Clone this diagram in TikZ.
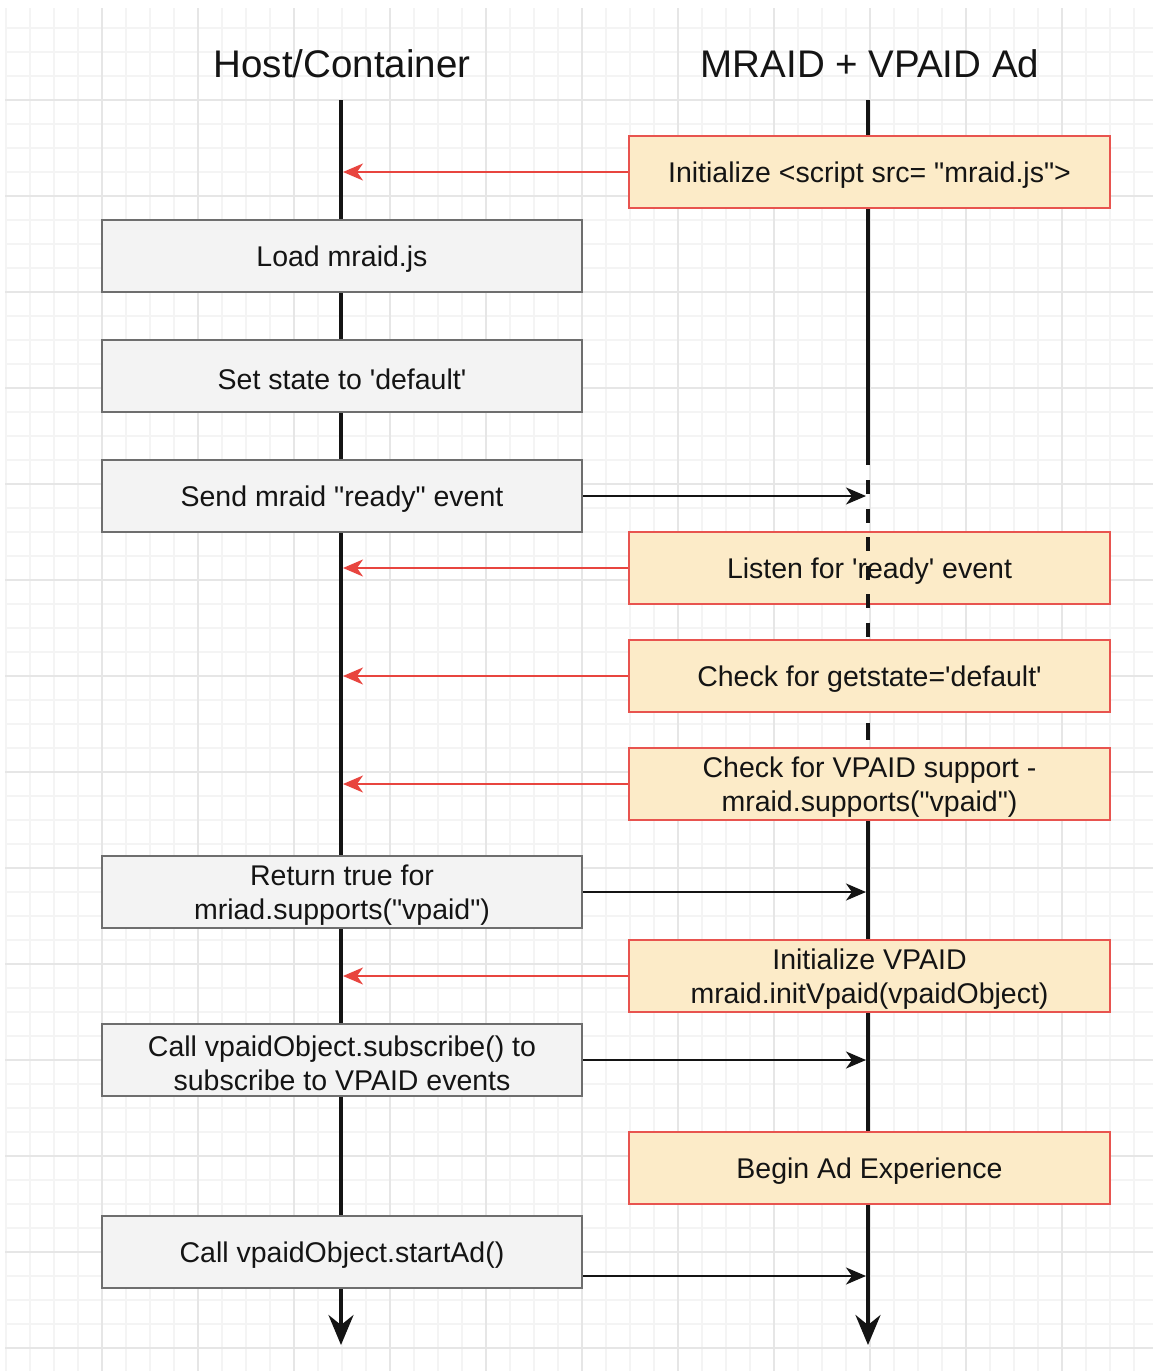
\documentclass[tikz,border=0pt]{standalone}
\usepackage{fontspec}
\setmainfont{Liberation Sans}[Ligatures=TeXOff]
\usetikzlibrary{arrows.meta}
\definecolor{gridminor}{HTML}{F4F4F4}
\definecolor{gridmajor}{HTML}{E6E6E6}
\definecolor{hostfill}{HTML}{F3F3F3}
\definecolor{hostdraw}{HTML}{6E6E6E}
\definecolor{adfill}{HTML}{FCEBC8}
\definecolor{addraw}{HTML}{E8544F}
\definecolor{redline}{HTML}{E8453F}
\definecolor{ink}{HTML}{141414}
\tikzset{
  minorline/.style={draw=gridminor, line width=1.2pt},
  majorline/.style={draw=gridmajor, line width=1.4pt},
  lifeline/.style={draw=ink, line width=3.6pt},
  lifeend/.style={-{Stealth[length=30pt,width=25pt,inset=10pt]}},
  hostbox/.style={draw=hostdraw, fill=hostfill, line width=2pt, minimum width=480pt, minimum height=72pt, inner sep=0pt},
  adbox/.style={draw=addraw, fill=adfill, line width=2pt, minimum width=481pt, minimum height=72pt, inner sep=0pt},
  boxtext/.style={align=center, font=\fontsize{28.5}{34}\selectfont, text=ink, inner sep=0pt, yshift=-3.5pt},
  callmsg/.style={draw=ink, line width=2.2pt, -{Stealth[length=20pt,width=17pt,inset=6pt]}},
  redmsg/.style={draw=redline, line width=2pt, -{Stealth[length=20pt,width=17pt,inset=6pt]}},
  titletext/.style={font=\fontsize{38.5}{44}\selectfont, text=ink, inner sep=0pt}
}
\begin{document}
\begin{tikzpicture}[x=1pt,y=-1pt]
\useasboundingbox (0,0) rectangle (1153,1371);
\fill[white] (0,0) rectangle (1153,1371);
\begin{scope}
\clip (5,8) rectangle (1153,1371);
\foreach \x in {6,30,...,1160} \draw[minorline] (\x,8) -- (\x,1371);
\foreach \y in {28,52,...,1380} \draw[minorline] (5,\y) -- (1153,\y);
\foreach \x in {102,198,...,1160} \draw[majorline] (\x,8) -- (\x,1371);
\foreach \y in {100,196,...,1380} \draw[majorline] (5,\y) -- (1153,\y);
\end{scope}

% titles
\node[titletext] (thost) at (342,64) {Host/Container};
\node[titletext] (tad) at (870,64) {MRAID + VPAID Ad};

% lifelines
\coordinate (hTop) at (341,100);
\coordinate (hBot) at (341,1345);
\coordinate (aTop) at (868,100);
\coordinate (aSolidEnd) at (868,465);
\coordinate (aDashStart) at (868,480);
\coordinate (aDashEnd) at (868,640);
\coordinate (aDashB1) at (868,723);
\coordinate (aDashB2) at (868,740);
\coordinate (aResume) at (868,820);
\coordinate (aBot) at (868,1345);
\coordinate (HL) at (343,0);
\coordinate (AL) at (866,0);
\draw[lifeline, lifeend] (hTop) -- (hBot);
\draw[lifeline] (aTop) -- (aSolidEnd);
\draw[lifeline] (aDashB1) -- (aDashB2);
\draw[lifeline, lifeend] (aResume) -- (aBot);

% host boxes
\node[hostbox] (load) at (342,256) {};
\node[boxtext] (loadT) at (load.center) {Load mraid.js};
\node[hostbox] (state) at (342,376) {};
\node[boxtext] (stateT) at (state.center) {Set state to 'default'};
\node[hostbox] (send) at (342,496) {};
\node[boxtext] (sendT) at (send.center) {Send mraid "ready" event};
\node[hostbox] (ret) at (342,892) {};
\node[boxtext] (retT) at (ret.center) {Return true for\\mriad.supports("vpaid")};
\node[hostbox] (subs) at (342,1060) {};
\node[boxtext] (subsT) at (subs.center) {Call vpaidObject.subscribe() to\\subscribe to VPAID events};
\node[hostbox] (start) at (342,1252) {};
\node[boxtext] (startT) at (start.center) {Call vpaidObject.startAd()};

% ad boxes
\node[adbox] (init) at (869.5,172) {};
\node[boxtext] (initT) at (init.center) {Initialize <script src= "mraid.js">};
\node[adbox] (listen) at (869.5,568) {};
\node[boxtext] (listenT) at (listen.center) {Listen for 'ready' event};
\draw[lifeline, dash pattern=on 14pt off 14.5pt] (aDashStart) -- (aDashEnd);
\node[adbox] (getstate) at (869.5,676) {};
\node[boxtext] (getstateT) at (getstate.center) {Check for getstate='default'};
\node[adbox] (vpaid) at (869.5,784) {};
\node[boxtext] (vpaidT) at (vpaid.center) {Check for VPAID support -\\mraid.supports("vpaid")};
\node[adbox] (initv) at (869.5,976) {};
\node[boxtext] (initvT) at (initv.center) {Initialize VPAID\\mraid.initVpaid(vpaidObject)};
\node[adbox] (begin) at (869.5,1168) {};
\node[boxtext] (beginT) at (begin.center) {Begin Ad Experience};

% red messages (ad -> host)
\draw[redmsg] (init.west) -- (init.west -| HL);
\draw[redmsg] (listen.west) -- (listen.west -| HL);
\draw[redmsg] (getstate.west) -- (getstate.west -| HL);
\draw[redmsg] (vpaid.west) -- (vpaid.west -| HL);
\draw[redmsg] (initv.west) -- (initv.west -| HL);

% black messages (host -> ad)
\draw[callmsg] (send.east) -- (send.east -| AL);
\draw[callmsg] (ret.east) -- (ret.east -| AL);
\draw[callmsg] (subs.east) -- (subs.east -| AL);
\coordinate (startOut) at ([yshift=-24pt]start.east);
\draw[callmsg] (startOut) -- (startOut -| AL);
\end{tikzpicture}
\end{document}
